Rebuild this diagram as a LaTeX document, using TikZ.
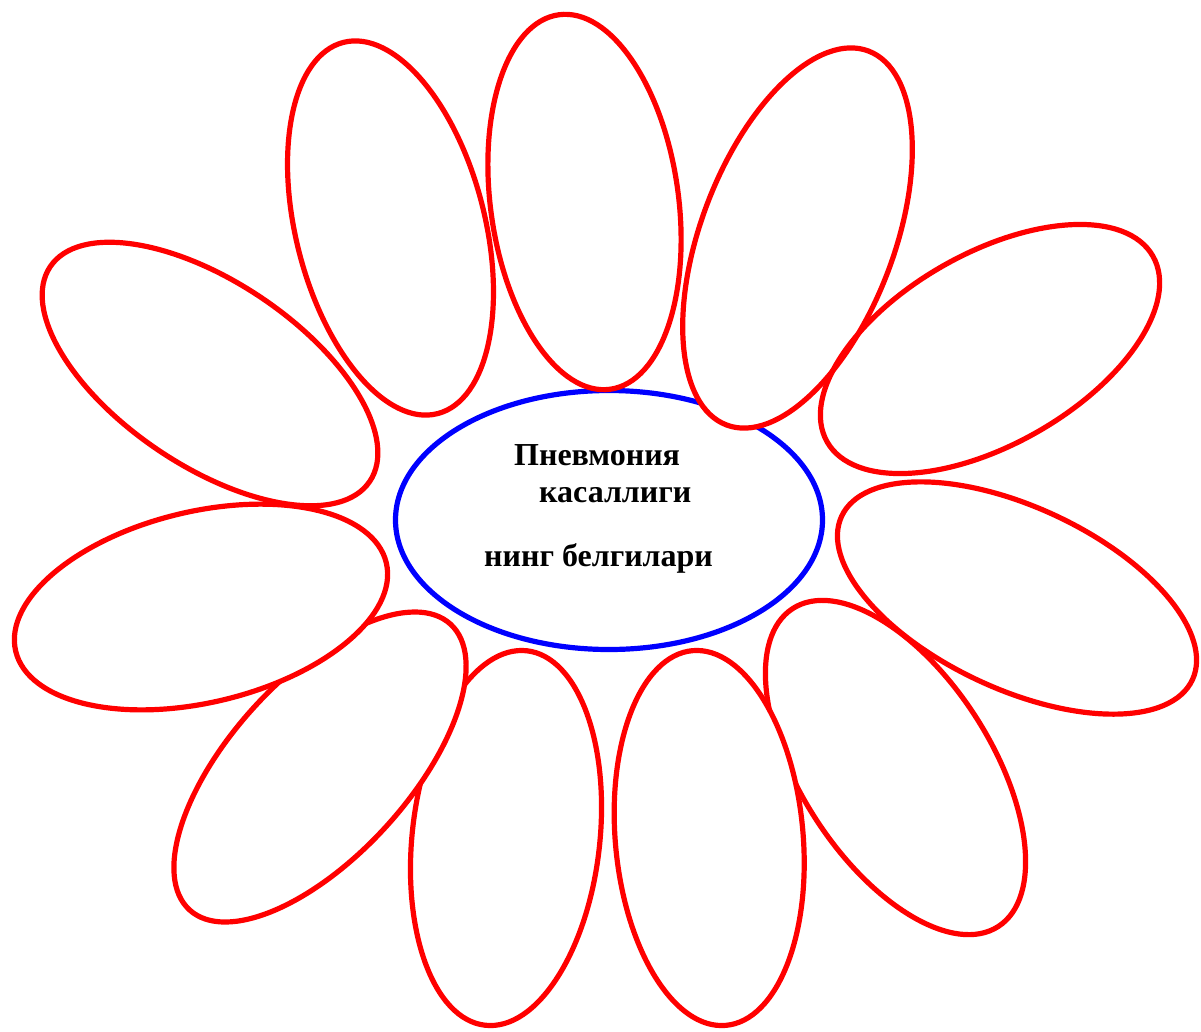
\documentclass[tikz,border=0pt]{standalone}
\usepackage{fontspec}
\setmainfont{Liberation Serif}
\begin{document}
\begin{tikzpicture}[x=1pt,y=-1pt,
  petal/.style={draw=red, line width=5.2pt},
  filledpetal/.style={petal, fill=white},
  hub/.style={draw=blue, line width=5.2pt, fill=white},
  lbl/.style={anchor=base west, inner sep=0pt, font=\fontsize{32}{38}\selectfont\bfseries}]
\path[use as bounding box] (0,0) rectangle (1201,1031);
% centre
\draw[hub] (609,520) ellipse [x radius=213.5, y radius=129.5];
% petals
\draw[filledpetal, rotate around={97.8:(584.5,202)}] (584.5,202) ellipse [x radius=189, y radius=94];
\draw[petal, rotate around={104.2:(390.5,228)}] (390.5,228) ellipse [x radius=191.5, y radius=94.5];
\draw[petal, rotate around={-33.9:(210,374)}] (210,374) ellipse [x radius=192.5, y radius=92];
\draw[filledpetal, rotate around={83.65:(506,838)}] (506,838) ellipse [x radius=188.4, y radius=93.8];
\draw[filledpetal, rotate around={47.6:(320,767)}] (320,767) ellipse [x radius=193.5, y radius=89];
\draw[filledpetal, rotate around={13.4:(201,607)}] (201,607) ellipse [x radius=190.5, y radius=95.5];
\draw[filledpetal, rotate around={69.2:(797.5,238)}] (797.5,238) ellipse [x radius=200, y radius=96.5];
\draw[petal, rotate around={29.7:(990,349)}] (990,349) ellipse [x radius=187.5, y radius=95.5];
\draw[petal, rotate around={-25:(1017,598)}] (1017,598) ellipse [x radius=193.5, y radius=91];
\draw[filledpetal, rotate around={-57.1:(895.5,767.5)}] (895.5,767.5) ellipse [x radius=189.3, y radius=94.9];
\draw[filledpetal, rotate around={95.1:(709.2,838)}] (709.2,838) ellipse [x radius=188.1, y radius=93.9];
% text
\node[lbl] (t1) at (514,465.5) {Пневмония};
\node[lbl] (t2) at (539,502.5) {касаллиги};
\node[lbl] (t3) at (484,566.5) {нинг белгилари};
\end{tikzpicture}
\end{document}
